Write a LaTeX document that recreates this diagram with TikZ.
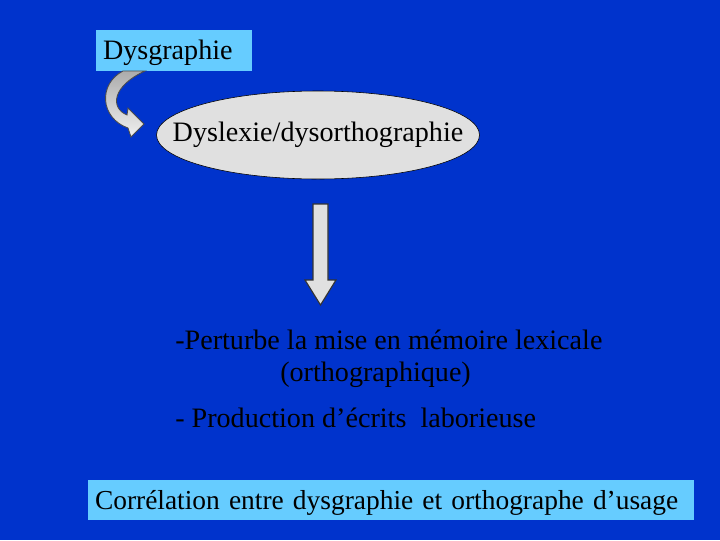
\documentclass[tikz,border=0pt]{standalone}
\usepackage{fontspec}
\setmainfont{Liberation Serif}
\usetikzlibrary{shapes,positioning,calc}
\definecolor{slideblue}{RGB}{0,51,204}
\definecolor{lightbox}{RGB}{102,204,255}
\definecolor{ellgray}{RGB}{224,224,224}
\begin{document}
\begin{tikzpicture}
[
	x=0.025cm, y=-0.025cm,
	txt/.style={font=\fontsize{20}{24}\selectfont, text=black, inner sep=0pt},
	labelbox/.style={rectangle, fill=lightbox, txt, align=left, inner xsep=7*0.025cm},
	oval/.style={ellipse, draw=black, thin, fill=ellgray, inner sep=0pt, minimum width=323*0.025cm, minimum height=88*0.025cm},
	blockarrow/.style={draw=black!80, fill=ellgray, line width=0.8pt},
]
	% background
	\fill[slideblue] (0,0) rectangle (720,540);
	\useasboundingbox (0,0) rectangle (720,540);

	\begin{scope}
		\node[labelbox, minimum width=156*0.025cm, minimum height=41*0.025cm, text width=142*0.025cm, text depth=0.15ex] (dysg) at (174,50) {Dysgraphie};
		\node[oval, label={[txt]center:Dyslexie/dysorthographie}] (dysl) at (318,135) {};
	\end{scope}

	% curved arrow under the box
	\begin{scope}
		\shade[top color=gray!65, bottom color=gray!12, draw=black!70, line width=0.6pt]
			(123,71) .. controls (98,84) and (100,118) .. (128,128)
			-- (131,137) -- (144,124) -- (128,108) -- (127,115)
			.. controls (110,108) and (112,86) .. (145,71) -- cycle;
	\end{scope}

	% down arrow
	\begin{scope}
		\draw[blockarrow] (313,204) -- (328,204) -- (328,280) -- (336,280)
			-- (320.5,305) -- (305,280) -- (313,280) -- cycle;
	\end{scope}

	\begin{scope}
		\node[txt, anchor=west] (pert) at (175,340) {-Perturbe la mise en mémoire lexicale};
		\node[txt, anchor=west] (ortho) at (280,375) {(orthographique)};
		\node[txt, anchor=west] (prod) at (175,418) {- Production d’écrits\ \ laborieuse};
	\end{scope}

	\node[labelbox, font=\fontsize{19.5}{24}\selectfont, minimum width=606*0.025cm, minimum height=40*0.025cm, text width=592*0.025cm, text depth=0.15ex] (corr) at (391,500) {Corrélation entre dysgraphie et orthographe d’usage};
\end{tikzpicture}
\end{document}
